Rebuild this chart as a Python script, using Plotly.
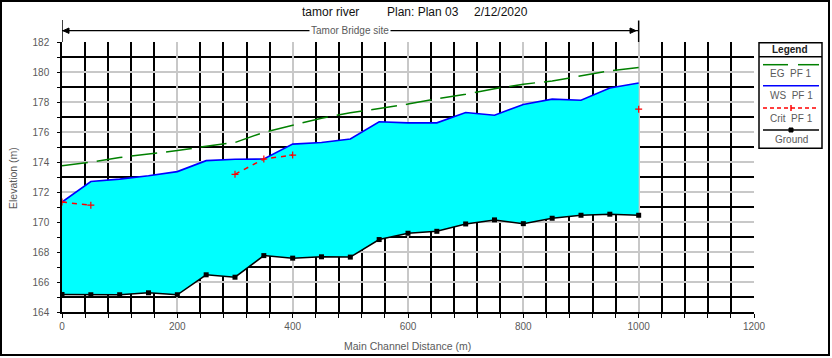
import plotly.graph_objects as go

# ---------------- data ----------------
stations = [0, 50, 100, 150, 200, 250, 300, 350, 400, 450, 500,
            550, 600, 650, 700, 750, 800, 850, 900, 950, 1000]
ground = [165.17, 165.15, 165.15, 165.28, 165.15, 166.48, 166.32, 167.76, 167.59, 167.68, 167.66,
          168.83, 169.25, 169.38, 169.87, 170.14, 169.89, 170.25, 170.45, 170.52, 170.45]
ws_pf1 = [171.33, 172.70, 172.86, 173.08, 173.36, 174.09, 174.18, 174.20, 175.19, 175.30, 175.53,
          176.68, 176.61, 176.61, 177.30, 177.12, 177.83, 178.19, 178.12, 178.94, 179.27]
eg_pf1 = [173.75, 173.99, 174.30, 174.52, 174.76, 175.05, 175.30, 175.98, 176.44, 176.92, 177.28,
          177.57, 177.86, 178.22, 178.52, 178.88, 179.19, 179.40, 179.75, 180.08, 180.30]
crit_pf1 = [171.33, 171.12, None, None, None, None, 173.18, 174.20, 174.46, None, None,
            None, None, None, None, None, None, None, None, None, 177.52]

x_ticks = [0, 200, 400, 600, 800, 1000, 1200]
y_ticks = [164, 166, 168, 170, 172, 174, 176, 178, 180, 182]
reach_label = "Tamor Bridge site"
reach_start, reach_end = stations[0], stations[-1]

title_parts = ["tamor river", "Plan: Plan 03", "2/12/2020"]
legend_labels = ["EG\u00a0\u00a0PF 1", "WS\u00a0\u00a0PF 1", "Crit\u00a0\u00a0PF 1", "Ground"]

# ---------------- layout helpers ----------------
W, H = 832, 358
ML, MR, MT, MB = 62, 78, 42, 46
PW, PH = W - ML - MR, H - MT - MB
FONT = "Liberation Sans, Arial, sans-serif"
GREY_TXT = "#5a5a5a"


def PX(px):
    return (px - ML) / PW


def PY(py):
    return (H - MB - py) / PH


fig = go.Figure()

# fill between ground and water surface
fig.add_trace(go.Scatter(x=stations, y=ground, mode="lines",
                         line=dict(width=0, color="rgba(0,0,0,0)"),
                         showlegend=False, hoverinfo="skip"))
fig.add_trace(go.Scatter(x=stations, y=ws_pf1, mode="lines", fill="tonexty",
                         fillcolor="#00FFFF", line=dict(color="#0000FF", width=1.6),
                         name="WS PF 1", showlegend=False))
fig.add_trace(go.Scatter(x=stations, y=ground, mode="lines+markers",
                         line=dict(color="black", width=1.5),
                         marker=dict(symbol="square", size=5, color="black"),
                         name="Ground", showlegend=False))
fig.add_trace(go.Scatter(x=stations, y=eg_pf1, mode="lines",
                         line=dict(color="#008000", width=1.5, dash="26px,9px"),
                         name="EG PF 1", showlegend=False))
fig.add_trace(go.Scatter(x=stations, y=crit_pf1, mode="lines+markers",
                         line=dict(color="#FF0000", width=1.5, dash="5px,5px"),
                         marker=dict(symbol="cross-thin", size=5,
                                     line=dict(color="#FF0000", width=1.2)),
                         connectgaps=False, name="Crit PF 1", showlegend=False))

shapes = []
annotations = []

# outer frame
shapes.append(dict(type="rect", xref="paper", yref="paper",
                   x0=PX(1), x1=PX(829), y0=PY(355), y1=PY(1),
                   line=dict(color="black", width=2)))

# reach arrow
ya = PY(30.7)
shapes.append(dict(type="line", xref="x", yref="paper", x0=reach_start, x1=reach_end,
                   y0=ya, y1=ya, line=dict(color="black", width=1.3)))
shapes.append(dict(type="line", xref="x", yref="paper", x0=reach_start, x1=reach_start,
                   y0=PY(20), y1=1, line=dict(color="black", width=1.5)))
shapes.append(dict(type="line", xref="x", yref="paper", x0=reach_end, x1=reach_end,
                   y0=PY(20.5), y1=1, line=dict(color="black", width=1.5)))
shapes.append(dict(type="path", xref="paper", yref="paper",
                   path=f"M {PX(63)} {ya} L {PX(69)} {PY(28)} L {PX(69)} {PY(33.4)} Z",
                   fillcolor="black", line=dict(color="black", width=1)))
shapes.append(dict(type="path", xref="paper", yref="paper",
                   path=f"M {PX(636)} {ya} L {PX(630)} {PY(28)} L {PX(630)} {PY(33.4)} Z",
                   fillcolor="black", line=dict(color="black", width=1)))
annotations.append(dict(x=(reach_start + reach_end) / 2, xref="x", y=ya, yref="paper",
                        text=reach_label, showarrow=False, bgcolor="white",
                        font=dict(family=FONT, size=10, color=GREY_TXT),
                        xanchor="center", yanchor="middle", borderpad=1))

# title
for txt, px in zip(title_parts, [300, 385, 471.5]):
    annotations.append(dict(x=PX(px), y=PY(12), xref="paper", yref="paper",
                            text=txt, showarrow=False, xanchor="left", yanchor="middle",
                            font=dict(family=FONT, size=12, color="#111111")))

# axis titles
annotations.append(dict(x=PX(407), y=PY(346), xref="paper", yref="paper",
                        text="Main Channel Distance (m)", showarrow=False,
                        xanchor="center", yanchor="middle",
                        font=dict(family=FONT, size=10.5, color=GREY_TXT)))
annotations.append(dict(x=PX(13), y=PY(178), xref="paper", yref="paper",
                        text="Elevation (m)", showarrow=False, textangle=-90,
                        xanchor="center", yanchor="middle",
                        font=dict(family=FONT, size=10.5, color=GREY_TXT)))

# custom legend box
LX0, LX1, LY0, LY1 = 759, 822, 42.7, 148.3
shapes.append(dict(type="rect", xref="paper", yref="paper",
                   x0=PX(LX0), x1=PX(LX1), y0=PY(LY1), y1=PY(LY0),
                   fillcolor="white", line=dict(color="black", width=1.5)))
shapes.append(dict(type="line", xref="paper", yref="paper",
                   x0=PX(LX0), x1=PX(LX1), y0=PY(56.7), y1=PY(56.7),
                   line=dict(color="black", width=1.5)))
annotations.append(dict(x=PX((LX0 + LX1) / 2), y=PY(49.5), xref="paper", yref="paper",
                        text="<b>Legend</b>", showarrow=False, xanchor="center",
                        yanchor="middle", font=dict(family=FONT, size=10, color="#222222")))
lx_a, lx_b = 763, 819
# EG
shapes.append(dict(type="line", xref="paper", yref="paper", x0=PX(lx_a), x1=PX(788),
                   y0=PY(64.7), y1=PY(64.7), line=dict(color="#008000", width=1.5)))
shapes.append(dict(type="line", xref="paper", yref="paper", x0=PX(798), x1=PX(lx_b),
                   y0=PY(64.7), y1=PY(64.7), line=dict(color="#008000", width=1.5)))
# WS
shapes.append(dict(type="line", xref="paper", yref="paper", x0=PX(lx_a), x1=PX(lx_b),
                   y0=PY(85.7), y1=PY(85.7), line=dict(color="#0000FF", width=1.5)))
# Crit
shapes.append(dict(type="line", xref="paper", yref="paper", x0=PX(lx_a), x1=PX(lx_b),
                   y0=PY(108), y1=PY(108), line=dict(color="#FF0000", width=1.5, dash="4px,3px")))
shapes.append(dict(type="line", xref="paper", yref="paper", x0=PX(791), x1=PX(791),
                   y0=PY(105), y1=PY(111), line=dict(color="#FF0000", width=1.5)))
# Ground
shapes.append(dict(type="line", xref="paper", yref="paper", x0=PX(lx_a), x1=PX(lx_b),
                   y0=PY(130), y1=PY(130), line=dict(color="black", width=1.5)))
shapes.append(dict(type="rect", xref="paper", yref="paper", x0=PX(789), x1=PX(793),
                   y0=PY(132), y1=PY(128), fillcolor="black", line=dict(color="black", width=1)))
for lab, py in zip(legend_labels, [73.7, 96, 118.7, 139]):
    annotations.append(dict(x=PX(791), y=PY(py), xref="paper", yref="paper", text=lab,
                            showarrow=False, xanchor="center", yanchor="middle",
                            font=dict(family=FONT, size=10, color=GREY_TXT)))

fig.update_layout(
    width=W, height=H,
    margin=dict(l=ML, r=MR, t=MT, b=MB, pad=0),
    paper_bgcolor="white", plot_bgcolor="white",
    showlegend=False,
    shapes=shapes, annotations=annotations,
    xaxis=dict(range=[0, 1200], tickvals=x_ticks, ticktext=[str(v) for v in x_ticks],
               showgrid=True, gridcolor="#C8C8C8", gridwidth=1.5,
               showline=True, linecolor="black", linewidth=1.5,
               ticks="outside", ticklen=4, tickcolor="black", tickwidth=1.2,
               zeroline=False,
               tickfont=dict(family=FONT, size=10, color=GREY_TXT),
               minor=dict(dtick=40, tick0=0, showgrid=True, gridcolor="black", gridwidth=1.5,
                          ticks="outside", ticklen=4, tickcolor="black", tickwidth=1.2)),
    yaxis=dict(range=[164, 182], tickvals=y_ticks, ticktext=[str(v) for v in y_ticks],
               showgrid=True, gridcolor="#C8C8C8", gridwidth=1.5,
               showline=True, linecolor="black", linewidth=1.5,
               ticks="outside", ticklen=3, tickcolor="black", tickwidth=1.2,
               zeroline=False, ticklabelstandoff=6,
               tickfont=dict(family=FONT, size=10, color=GREY_TXT),
               minor=dict(dtick=1, tick0=164, showgrid=True, gridcolor="black", gridwidth=1.5,
                          ticks="outside", ticklen=3, tickcolor="black", tickwidth=1.2)),
)

fig.write_html("out.html")
